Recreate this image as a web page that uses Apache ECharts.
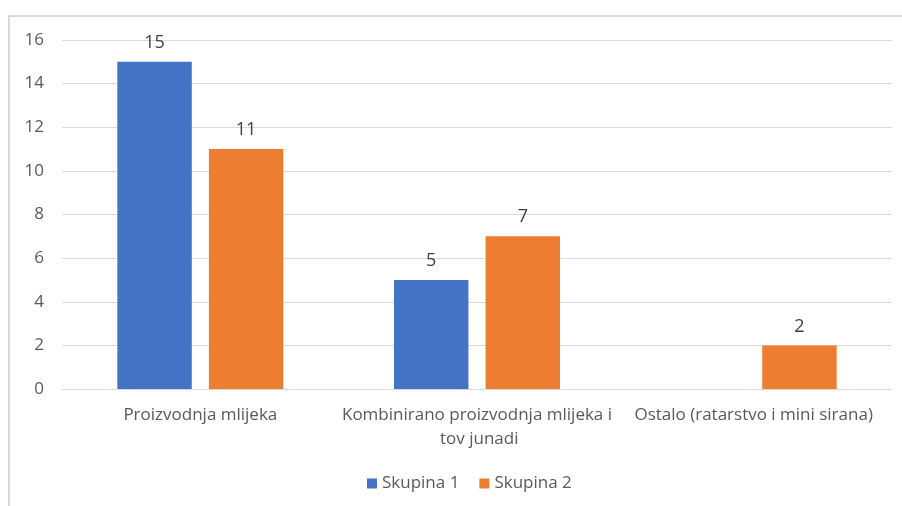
<!DOCTYPE html>
<html><head><meta charset="utf-8">
<script src="https://cdn.jsdelivr.net/npm/echarts@6/dist/echarts.min.js"></script>
<style>
html,body{margin:0;padding:0;background:#fff;}
#frame{position:absolute;left:8px;top:15px;width:900px;height:500px;border-top:2px solid #d9d9d9;border-left:2px solid #d9d9d9;}
#c{position:absolute;left:0;top:0;width:902px;height:506px;}
</style></head>
<body>
<div id="frame"></div>
<div id="c"></div>
<script>
const categories = ['Proizvodnja mlijeka', 'Kombinirano proizvodnja mlijeka i tov junadi', 'Ostalo (ratarstvo i mini sirana)'];
const seriesNames = ['Skupina 1', 'Skupina 2'];
const skupina1 = [15, 5, null];
const skupina2 = [11, 7, 2];
const yTicks = [0, 2, 4, 6, 8, 10, 12, 14, 16];

const font = '"Open Sans", Arial, sans-serif';
const chart = echarts.init(document.getElementById('c'), null, {renderer: 'canvas'});
chart.setOption({
  animation: false,
  backgroundColor: 'transparent',
  grid: {left: 62, right: 10, top: 40, bottom: 117, containLabel: false},
  legend: {
    data: seriesNames, bottom: 9, left: 362,
    itemWidth: 10, itemHeight: 10, itemGap: 20, icon: 'rect',
    textStyle: {color: '#595959', fontSize: 17, fontFamily: font}
  },
  xAxis: {
    type: 'category', data: categories,
    axisLine: {lineStyle: {color: '#d9d9d9', width: 1}},
    axisTick: {show: false},
    axisLabel: {color: '#595959', fontSize: 17, fontFamily: font, margin: 14, interval: 0,
      width: 274, overflow: 'break', lineHeight: 24}
  },
  yAxis: {
    type: 'value', min: yTicks[0], max: yTicks[yTicks.length - 1], interval: 2,
    axisLine: {show: false}, axisTick: {show: false},
    axisLabel: {color: '#595959', fontSize: 17, fontFamily: font, margin: 18},
    splitLine: {lineStyle: {color: '#d9d9d9', width: 1}}
  },
  series: [
    {name: seriesNames[0], type: 'bar', data: skupina1, barGap: '23%', barCategoryGap: '40%',
      itemStyle: {color: '#4472C4'},
      label: {show: true, position: 'top', distance: 10, color: '#404040', fontSize: 18, fontFamily: font}},
    {name: seriesNames[1], type: 'bar', data: skupina2,
      itemStyle: {color: '#ED7D31'},
      label: {show: true, position: 'top', distance: 10, color: '#404040', fontSize: 18, fontFamily: font}}
  ]
});
</script>
</body></html>
